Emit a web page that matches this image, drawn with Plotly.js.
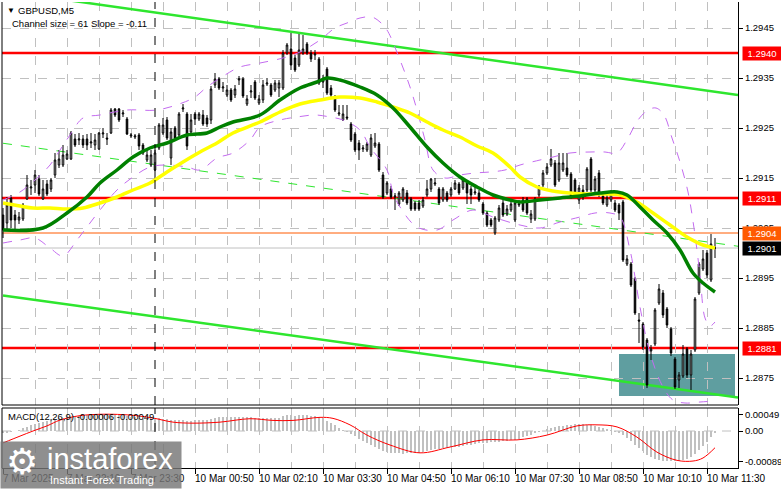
<!DOCTYPE html>
<html><head><meta charset="utf-8">
<script src="https://cdn.plot.ly/plotly-3.0.1.min.js"></script>
<style>html,body{margin:0;padding:0;background:#fff;}#chart{width:781px;height:489px;}</style>
</head><body><div id="chart"></div>
<script>
// ---------- DATA (GBPUSD M5, bar index 0 = 7 Mar 20:50) ----------
const openP = [1.29076,1.29060,1.29110,1.29076,1.29066,1.29068,1.29108,1.29130,1.29136,1.29148,
1.29108,1.29138,1.29128,1.29156,1.29176,1.29176,1.29188,1.29188,1.29228,1.29226,
1.29228,1.29228,1.29220,1.29216,1.29208,1.29238,1.29230,1.29240,1.29288,1.29288,
1.29278,1.29268,1.29234,1.29232,1.29236,1.29216,1.29186,1.29176,1.29166,1.29210,
1.29240,1.29266,1.29190,1.29250,1.29236,1.29288,1.29278,1.29242,1.29278,1.29268,
1.29276,1.29270,1.29266,1.29336,1.29348,1.29330,1.29316,1.29326,1.29316,1.29346,
1.29348,1.29298,1.29322,1.29342,1.29300,1.29306,1.29338,1.29336,1.29326,1.29330,
1.29330,1.29400,1.29408,1.29390,1.29376,1.29400,1.29418,1.29400,1.29396,1.29388,
1.29342,1.29368,1.29330,1.29310,1.29278,1.29266,1.29272,1.29258,1.29238,1.29220,
1.29208,1.29206,1.29196,1.29214,1.29218,1.29156,1.29120,1.29128,1.29112,1.29098,
1.29106,1.29120,1.29108,1.29100,1.29100,1.29094,1.29116,1.29128,1.29138,1.29128,
1.29106,1.29120,1.29116,1.29128,1.29138,1.29130,1.29140,1.29128,1.29120,1.29120,
1.29098,1.29080,1.29066,1.29040,1.29066,1.29100,1.29078,1.29086,1.29066,1.29096,
1.29106,1.29108,1.29068,1.29068,1.29116,1.29136,1.29160,1.29176,1.29180,1.29146,
1.29166,1.29170,1.29158,1.29146,1.29106,1.29126,1.29126,1.29188,1.29126,1.29160,
1.29114,1.29096,1.29106,1.29100,1.29096,1.29102,1.28978,1.28978,1.28948,1.28866,
1.28858,1.28826,1.28804,1.28818,1.28900,1.28920,1.28888,1.28848,1.28788,1.28746,
1.28754,1.28808,1.28756,1.28806,1.28920,1.28968,1.29000,1.28946,1.29010];
const highP = [1.29090,1.29112,1.29116,1.29086,1.29082,1.29100,1.29156,1.29146,1.29166,1.29156,
1.29146,1.29146,1.29150,1.29200,1.29206,1.29216,1.29206,1.29244,1.29238,1.29240,
1.29236,1.29238,1.29240,1.29238,1.29242,1.29250,1.29240,1.29290,1.29290,1.29290,
1.29286,1.29272,1.29240,1.29238,1.29240,1.29220,1.29206,1.29206,1.29206,1.29260,
1.29270,1.29272,1.29250,1.29254,1.29282,1.29298,1.29282,1.29278,1.29282,1.29282,
1.29286,1.29276,1.29334,1.29360,1.29352,1.29342,1.29336,1.29330,1.29336,1.29354,
1.29352,1.29316,1.29336,1.29346,1.29316,1.29346,1.29350,1.29340,1.29346,1.29346,
1.29406,1.29420,1.29440,1.29396,1.29438,1.29436,1.29422,1.29406,1.29406,1.29392,
1.29356,1.29372,1.29336,1.29316,1.29296,1.29296,1.29296,1.29262,1.29242,1.29226,
1.29216,1.29222,1.29238,1.29240,1.29222,1.29162,1.29144,1.29134,1.29120,1.29124,
1.29132,1.29126,1.29112,1.29104,1.29106,1.29112,1.29146,1.29150,1.29150,1.29132,
1.29132,1.29124,1.29132,1.29146,1.29142,1.29150,1.29144,1.29134,1.29132,1.29126,
1.29102,1.29084,1.29070,1.29074,1.29096,1.29106,1.29096,1.29106,1.29106,1.29106,
1.29112,1.29112,1.29086,1.29112,1.29136,1.29166,1.29180,1.29208,1.29186,1.29200,
1.29200,1.29200,1.29162,1.29150,1.29136,1.29136,1.29172,1.29192,1.29154,1.29166,
1.29120,1.29116,1.29126,1.29106,1.29100,1.29106,1.28996,1.28982,1.28952,1.28880,
1.28862,1.28830,1.28816,1.28890,1.28938,1.28926,1.28892,1.28852,1.28792,1.28762,
1.28816,1.28812,1.28806,1.28912,1.28982,1.29006,1.29006,1.29038,1.29030];
const lowP = [1.29030,1.29046,1.29050,1.29046,1.29058,1.29064,1.29106,1.29116,1.29120,1.29114,
1.29106,1.29114,1.29122,1.29150,1.29170,1.29172,1.29186,1.29186,1.29212,1.29216,
1.29210,1.29206,1.29210,1.29206,1.29206,1.29230,1.29216,1.29238,1.29272,1.29262,
1.29272,1.29236,1.29230,1.29228,1.29206,1.29196,1.29182,1.29172,1.29148,1.29206,
1.29236,1.29226,1.29176,1.29226,1.29232,1.29282,1.29206,1.29236,1.29256,1.29264,
1.29254,1.29252,1.29258,1.29330,1.29326,1.29322,1.29312,1.29302,1.29310,1.29336,
1.29310,1.29294,1.29310,1.29306,1.29296,1.29300,1.29334,1.29312,1.29322,1.29312,
1.29326,1.29396,1.29366,1.29362,1.29372,1.29396,1.29396,1.29382,1.29386,1.29336,
1.29330,1.29316,1.29312,1.29282,1.29274,1.29264,1.29266,1.29222,1.29202,1.29186,
1.29202,1.29202,1.29192,1.29210,1.29162,1.29108,1.29116,1.29108,1.29086,1.29094,
1.29102,1.29096,1.29084,1.29084,1.29084,1.29090,1.29112,1.29122,1.29134,1.29096,
1.29102,1.29102,1.29112,1.29126,1.29116,1.29126,1.29098,1.29098,1.29116,1.29102,
1.29076,1.29052,1.29052,1.29036,1.29062,1.29072,1.29074,1.29082,1.29062,1.29092,
1.29082,1.29076,1.29060,1.29064,1.29112,1.29132,1.29156,1.29172,1.29132,1.29142,
1.29162,1.29152,1.29108,1.29116,1.29098,1.29106,1.29122,1.29122,1.29122,1.29112,
1.29096,1.29092,1.29102,1.29082,1.29066,1.28982,1.28974,1.28932,1.28876,1.28820,
1.28806,1.28730,1.28786,1.28814,1.28896,1.28870,1.28850,1.28794,1.28728,1.28730,
1.28750,1.28750,1.28726,1.28802,1.28916,1.28964,1.28950,1.28942,1.28990];
const closeP = [1.29046,1.29096,1.29066,1.29066,1.29072,1.29096,1.29136,1.29132,1.29156,1.29118,
1.29128,1.29118,1.29146,1.29186,1.29188,1.29196,1.29198,1.29240,1.29216,1.29228,
1.29216,1.29216,1.29222,1.29226,1.29240,1.29240,1.29228,1.29286,1.29276,1.29266,
1.29280,1.29238,1.29236,1.29234,1.29214,1.29200,1.29196,1.29196,1.29200,1.29256,
1.29256,1.29230,1.29242,1.29230,1.29278,1.29290,1.29214,1.29266,1.29268,1.29278,
1.29258,1.29258,1.29328,1.29348,1.29330,1.29332,1.29326,1.29306,1.29328,1.29348,
1.29314,1.29308,1.29324,1.29310,1.29308,1.29336,1.29340,1.29316,1.29340,1.29340,
1.29400,1.29416,1.29376,1.29366,1.29406,1.29408,1.29400,1.29388,1.29398,1.29340,
1.29346,1.29320,1.29316,1.29286,1.29280,1.29278,1.29270,1.29226,1.29206,1.29206,
1.29210,1.29218,1.29230,1.29220,1.29166,1.29112,1.29140,1.29112,1.29114,1.29120,
1.29128,1.29100,1.29088,1.29088,1.29088,1.29106,1.29128,1.29148,1.29140,1.29100,
1.29128,1.29106,1.29128,1.29140,1.29120,1.29146,1.29120,1.29116,1.29122,1.29106,
1.29080,1.29056,1.29056,1.29070,1.29090,1.29076,1.29088,1.29098,1.29100,1.29098,
1.29086,1.29080,1.29078,1.29108,1.29130,1.29160,1.29172,1.29188,1.29136,1.29180,
1.29180,1.29156,1.29112,1.29120,1.29130,1.29112,1.29168,1.29126,1.29148,1.29116,
1.29100,1.29110,1.29120,1.29086,1.29080,1.28986,1.28988,1.28936,1.28880,1.28864,
1.28812,1.28736,1.28808,1.28886,1.28928,1.28876,1.28856,1.28800,1.28732,1.28756,
1.28798,1.28756,1.28798,1.28908,1.28978,1.28988,1.28956,1.29018,1.29010];

// Moving averages (read at sample bars)
const maGreenBar = [0,10,16,21,24.25,28.5,32.5,36.75,41,46,51,54.25,57.5,64.25,69.25,74.25,78.5,81,84.25,89.25,93.5,97.5,101.75,106,110,114.25,118.5,122.5,126.75,129.25,134.25,139.25,144.25,149.25,153.5,156,159.25,162.5,166,169.25,172.5,175,178];
const maGreenVal = [1.29046,1.29050,1.29080,1.29112,1.29140,1.29166,1.29192,1.29210,1.29220,1.29236,1.29240,1.29252,1.29262,1.29276,1.29306,1.29330,1.29342,1.29350,1.29346,1.29332,1.29316,1.29290,1.29252,1.29212,1.29180,1.29152,1.29132,1.29116,1.29106,1.29102,1.29106,1.29110,1.29114,1.29120,1.29122,1.29116,1.29092,1.29066,1.29040,1.29006,1.28960,1.28940,1.28922];
const maYellowBar = [0,4.25,7.5,11.75,16,20,24.25,28.5,32.5,36.75,41,45,49.25,53.5,57.5,64.25,69.25,74.25,79.25,84.25,89.25,93.5,97.5,101.75,106,110,114.25,118.5,122.5,126.75,129.25,133.5,137.5,141.75,146,150,154.25,158.5,162.5,166.75,171,175,178];
const maYellowVal = [1.29100,1.29094,1.29090,1.29090,1.29088,1.29090,1.29100,1.29112,1.29126,1.29140,1.29162,1.29182,1.29202,1.29220,1.29240,1.29262,1.29282,1.29298,1.29306,1.29312,1.29310,1.29302,1.29292,1.29280,1.29262,1.29246,1.29232,1.29214,1.29200,1.29172,1.29152,1.29132,1.29124,1.29120,1.29118,1.29118,1.29116,1.29102,1.29080,1.29056,1.29032,1.29016,1.29010];
// Bands
const bandUpBar = [0,4.25,8,11.75,14.25,16.75,20,24.25,31,38.5,44.75,48,51,55.5,59.25,64.25,70,74.25,79.25,83,86,89.25,92.25,94.25,96,99.25,101.75,103.5,105.5,107.5,110.5,114.25,118,121.75,125.5,129.25,134.25,137.5,141.75,146.75,150.5,153.5,156.25,158.75,161.25,163.25,165.25,167.25,169.25,171.25,172.75,174.25,175.5,176.75,178];
const bandUpVal = [1.29106,1.29122,1.29146,1.29176,1.29206,1.29236,1.29270,1.29276,1.29286,1.29286,1.29300,1.29312,1.29332,1.29356,1.29372,1.29380,1.29390,1.29402,1.29426,1.29450,1.29460,1.29470,1.29472,1.29462,1.29446,1.29386,1.29332,1.29286,1.29226,1.29166,1.29150,1.29156,1.29160,1.29162,1.29166,1.29176,1.29186,1.29192,1.29200,1.29202,1.29202,1.29200,1.29230,1.29266,1.29286,1.29290,1.29276,1.29230,1.29182,1.29122,1.29050,1.28956,1.28870,1.28854,1.28862];
const bandLoBar = [0,4.25,8,11.75,15,18.5,21,24.25,28.5,32.5,36.75,40.5,46,49.25,53.5,57.5,61.75,64.25,69.25,73.5,78,81.75,85,89.25,91.75,96,97.5,99.25,103.5,108.5,112.5,117.5,122.5,129.25,134.25,139.25,144.25,148,151.75,154.25,156.75,159.25,161.75,165,167.5,170.5,174.25,178];
const bandLoVal = [1.29020,1.29026,1.29030,1.29010,1.28994,1.29026,1.29052,1.29086,1.29126,1.29152,1.29172,1.29176,1.29172,1.29166,1.29190,1.29200,1.29226,1.29252,1.29266,1.29272,1.29276,1.29272,1.29266,1.29246,1.29212,1.29166,1.29120,1.29092,1.29052,1.29046,1.29066,1.29086,1.29072,1.29056,1.29050,1.29062,1.29072,1.29080,1.29080,1.29072,1.29006,1.28892,1.28800,1.28732,1.28706,1.28700,1.28702,1.28704];

// MACD(12,26,9)
const macdHist = [-0.00006,-0.00006,-0.00003,0.00000,0.00003,
0.00009,0.00012,0.00018,0.00021,0.00023,0.00026,0.00029,0.00032,
0.00035,0.00038,0.00038,0.00041,0.00041,0.00044,0.00044,0.00044,0.00047,0.00047,0.00047,0.00047,0.00047,
0.00048,0.00049,0.00049,0.00048,0.00046,0.00044,0.00042,0.00040,0.00038,0.00036,0.00035,0.00035,
0.00036,0.00037,0.00036,0.00034,0.00032,0.00031,0.00031,0.00032,0.00030,0.00030,0.00031,
0.00032,0.00031,0.00031,0.00035,0.00039,0.00040,0.00041,0.00041,0.00040,0.00040,0.00042,0.00041,
0.00040,0.00040,0.00039,0.00039,0.00039,0.00039,0.00038,0.00038,0.00039,0.00043,0.00046,0.00046,
0.00045,0.00046,0.00046,0.00046,0.00045,0.00043,0.00040,0.00037,
0.00030,0.00024,0.00018,0.00010,0.00004,-0.00002,-0.00008,-0.00015,
-0.00022,-0.00028,-0.00034,-0.00040,-0.00046,-0.00052,-0.00058,-0.00062,
-0.00064,-0.00065,-0.00065,-0.00066,-0.00065,-0.00065,-0.00064,-0.00063,-0.00061,-0.00058,
-0.00056,-0.00054,-0.00052,-0.00050,-0.00049,-0.00048,-0.00047,-0.00046,
-0.00044,-0.00042,-0.00040,-0.00038,-0.00036,-0.00035,-0.00034,-0.00033,
-0.00033,-0.00031,-0.00030,-0.00028,-0.00027,-0.00025,-0.00022,-0.00019,
-0.00015,-0.00011,-0.00007,-0.00003,0.00001,0.00005,
0.00009,0.00012,0.00014,0.00016,0.00018,0.00019,0.00020,0.00021,
0.00020,0.00019,0.00018,0.00016,0.00013,0.00010,0.00006,
0.00002,-0.00002,-0.00005,-0.00012,-0.00020,
-0.00030,-0.00040,-0.00050,-0.00060,-0.00070,-0.00077,
-0.00082,-0.00085,-0.00087,-0.00088,-0.00089,-0.00089,-0.00088,-0.00086,
-0.00082,-0.00075,-0.00066,-0.00056,-0.00045,-0.00032,-0.00019,-0.00006];
const signalBar = [0,4.25,7.5,11,14.25,19.25,24.25,27.5,32.5,37.5,42.5,47.5,54.25,61.75,67.5,72.5,79.25,82.5,86.75,91,96.75,104.25,111.75,120,128.5,136,143.5,148.5,153.5,158.5,163.5,168.5,172.5,175,178];
const signalVal = [-0.00035,-0.00015,0,0.00015,0.00032,0.00045,0.00049,0.00049,0.00046,0.00038,0.00026,0.00023,0.00026,0.00036,0.00031,0.00031,0.00040,0.00037,0.00018,-0.00012,-0.00041,-0.00064,-0.00047,-0.00026,-0.00026,-0.00012,0.00015,0.00018,0.00012,-0.00018,-0.00062,-0.00086,-0.00088,-0.00079,-0.00049];

// Channel (regression) lines: [startBar, endBar], [startPrice, endPrice]
const channelBars = [0, 183.75];
const channelUpper = [1.29524, 1.29316];
const channelMid = [1.292195, 1.290135];
const channelLower = [1.28915, 1.28711];
// Support zone rectangle
const zoneBars = [154, 183];
const zonePrices = [1.28714, 1.28798];
// Levels
const redLevels = [1.2940, 1.2911, 1.2881];
const redLevelText = ['1.2940', '1.2911', '1.2881'];
const askLevel = 1.2904, askText = '1.2904';
const bidLevel = 1.2901, bidText = '1.2901';
const daySeparatorBar = 38;

// Axis ticks
const timeTickBars = [0,16,32,48,64,80,96,112,128,144,160,176];
const timeTickText = ['7 Mar 2025','7 Mar 22:10','7 Mar 23:30','10 Mar 00:50','10 Mar 02:10','10 Mar 03:30','10 Mar 04:50','10 Mar 06:10','10 Mar 07:30','10 Mar 08:50','10 Mar 10:10','10 Mar 11:30'];
const priceTicks = [1.2875,1.2885,1.2895,1.2905,1.2915,1.2925,1.2935,1.2945];
const priceTickText = ['1.2875','1.2885','1.2895','1.2905','1.2915','1.2925','1.2935','1.2945'];
const macdTicks = [0.00049, 0, -0.00089];
const macdTickText = ['0.00049','0.00','-0.00089'];

// ---------- CHART ----------
const FONT = 'Liberation Sans, Arial, sans-serif';
const bars = openP.map((_, i) => i);
const ML = 2, MR = 43, MT = 2, MB = 21, PW = 781 - ML - MR, PH = 489 - MT - MB;
const pX = p => (p - ML) / PW;          // pixel -> paper x (layout placement only)
const pY = p => (489 - MB - p) / PH;    // pixel -> paper y
const mainBottom = pY(405), macdTop = pY(408);

const traces = [
  {type:'candlestick', x:bars, open:openP, high:highP, low:lowP, close:closeP,
   xaxis:'x', yaxis:'y', whiskerwidth:0, hoverinfo:'skip',
   increasing:{line:{color:'#000',width:1}, fillcolor:'#ffffff'},
   decreasing:{line:{color:'#000',width:1}, fillcolor:'#000000'}},
  {type:'scatter', mode:'lines', x:bandUpBar, y:bandUpVal, xaxis:'x', yaxis:'y',
   line:{color:'#C46CF0', width:1, dash:'dash', shape:'spline'}, hoverinfo:'skip'},
  {type:'scatter', mode:'lines', x:bandLoBar, y:bandLoVal, xaxis:'x', yaxis:'y',
   line:{color:'#C46CF0', width:1, dash:'dash', shape:'spline'}, hoverinfo:'skip'},
  {type:'scatter', mode:'lines', x:maYellowBar, y:maYellowVal, xaxis:'x', yaxis:'y',
   line:{color:'#FFFF00', width:3.5, shape:'spline'}, hoverinfo:'skip'},
  {type:'scatter', mode:'lines', x:maGreenBar, y:maGreenVal, xaxis:'x', yaxis:'y',
   line:{color:'#008000', width:3.5, shape:'spline'}, hoverinfo:'skip'},
  {type:'bar', x:bars, y:macdHist, xaxis:'x', yaxis:'y2', width:0.5,
   marker:{color:'#C0C0C0', line:{width:0}}, hoverinfo:'skip'},
  {type:'scatter', mode:'lines', x:signalBar, y:signalVal, xaxis:'x', yaxis:'y2',
   line:{color:'#FF0000', width:1, shape:'spline'}, hoverinfo:'skip'}
];

const shapes = [];
// support zone
shapes.push({type:'rect', xref:'x', yref:'y', x0:zoneBars[0], x1:zoneBars[1], y0:zonePrices[0], y1:zonePrices[1],
  fillcolor:'#5F9EA0', line:{width:0}, layer:'below'});
// horizontal levels
redLevels.forEach(v => shapes.push({type:'line', xref:'paper', x0:0, x1:1, yref:'y', y0:v, y1:v,
  line:{color:'#FF0000', width:2.5}, layer:'between'}));
shapes.push({type:'line', xref:'paper', x0:0, x1:1, yref:'y', y0:askLevel, y1:askLevel, line:{color:'#FF5A00', width:1}, layer:'between'});
shapes.push({type:'line', xref:'paper', x0:0, x1:1, yref:'y', y0:bidLevel, y1:bidLevel, line:{color:'#C0C0C0', width:1}, layer:'between'});
// channel
shapes.push({type:'line', xref:'x', yref:'y', x0:channelBars[0], x1:channelBars[1], y0:channelUpper[0], y1:channelUpper[1], line:{color:'#2EE62E', width:2.5}, layer:'between'});
shapes.push({type:'line', xref:'x', yref:'y', x0:channelBars[0], x1:channelBars[1], y0:channelLower[0], y1:channelLower[1], line:{color:'#2EE62E', width:2.5}, layer:'between'});
shapes.push({type:'line', xref:'x', yref:'y', x0:channelBars[0], x1:channelBars[1], y0:channelMid[0], y1:channelMid[1], line:{color:'#2EE62E', width:1, dash:'dash'}, layer:'between'});
// day separator
shapes.push({type:'line', xref:'x', x0:daySeparatorBar, x1:daySeparatorBar, yref:'y domain', y0:0, y1:1, line:{color:'#000', width:1, dash:'dash'}});
shapes.push({type:'line', xref:'x', x0:daySeparatorBar, x1:daySeparatorBar, yref:'y2 domain', y0:0, y1:1, line:{color:'#000', width:1, dash:'dash'}});
// MACD zero level
shapes.push({type:'line', xref:'paper', x0:0, x1:1, yref:'y2', y0:0, y1:0, line:{color:'#C0C0C0', width:1, dash:'dash'}, layer:'below'});
// panel borders
shapes.push({type:'line', xref:'paper', yref:'paper', x0:0, x1:0, y0:mainBottom, y1:1, line:{color:'#000', width:1}});
shapes.push({type:'line', xref:'paper', yref:'paper', x0:0, x1:1, y0:mainBottom, y1:mainBottom, line:{color:'#000', width:1}});
shapes.push({type:'line', xref:'paper', yref:'paper', x0:0, x1:1, y0:macdTop, y1:macdTop, line:{color:'#000', width:1}});
shapes.push({type:'line', xref:'paper', yref:'paper', x0:0, x1:0, y0:0, y1:macdTop, line:{color:'#000', width:1}});

const ann = [];
const txt = (text, x, y, size, extra) => Object.assign({xref:'paper', yref:'paper', x:pX(x), y:pY(y), xanchor:'left', yanchor:'middle',
  text, showarrow:false, font:{family:FONT, size, color:'#000'}}, extra || {});
ann.push(txt('▼', 5, 11, 8));
ann.push(txt('GBPUSD,M5', 16, 11, 9.5));
ann.push(txt('Channel size = 61 Slope = -0.11', 10, 24, 9.5));
ann.push(txt('MACD(12,26,9) -0.00006 -0.00049', 6, 416, 9.5));
timeTickBars.forEach((b, k) => ann.push({xref:'x', yref:'paper', x:b, y:pY(478), xanchor:'left', yanchor:'middle', xshift:-2,
  text:timeTickText[k], showarrow:false, font:{family:FONT, size:10, color:'#000'}}));
const box = (v, t, bg) => ({xref:'paper', x:1, xanchor:'left', xshift:4, yref:'y', y:v, yanchor:'middle', text:t, showarrow:false,
  bgcolor:bg, width:38, height:13, borderpad:0, align:'center', font:{family:FONT, size:9.5, color:'#fff'}});
redLevels.forEach((v, k) => ann.push(box(v, redLevelText[k], '#FF0000')));
ann.push(box(askLevel, askText, '#FF5A00'));
ann.push(box(bidLevel, bidText, '#000000'));
// watermark
ann.push({xref:'paper', yref:'paper', x:pX(0), y:pY(489), xanchor:'left', yanchor:'bottom', text:' ', showarrow:false,
  bgcolor:'rgba(118,118,118,0.82)', width:180, height:46, borderpad:0});
ann.push(txt('⚙', 4, 461, 36, {font:{family:'DejaVu Sans', size:36, color:'#fff'}}));
ann.push(txt('instaforex', 45, 459, 29, {font:{family:FONT, size:29, color:'#fff'}}));
ann.push(txt('Instant Forex Trading', 48, 480, 11, {font:{family:FONT, size:11, color:'#fff'}}));

const layout = {
  width:781, height:489, margin:{l:ML, r:MR, t:MT, b:MB},
  paper_bgcolor:'#fff', plot_bgcolor:'#fff', showlegend:false, hovermode:false, dragmode:false,
  boxgap:0.45, bargap:0,
  xaxis:{domain:[0,1], range:[-0.25,183.75], anchor:'y2', rangeslider:{visible:false},
    tickmode:'linear', tick0:0, dtick:16, ticks:'outside', ticklen:5, tickcolor:'#000', showticklabels:false,
    showgrid:true, gridcolor:'#C0C0C0', griddash:'dash', gridwidth:1,
    minor:{dtick:8, showgrid:true, gridcolor:'#C0C0C0', griddash:'dash', gridwidth:1, ticks:''},
    showline:true, linecolor:'#000', linewidth:1, zeroline:false, fixedrange:true},
  yaxis:{domain:[mainBottom,1], range:[1.28696,1.29502], side:'right', anchor:'x',
    tickmode:'array', tickvals:priceTicks, ticktext:priceTickText, ticks:'outside', ticklen:4, tickcolor:'#000',
    tickfont:{family:FONT, size:9.5, color:'#000'},
    showgrid:true, gridcolor:'#C0C0C0', griddash:'dash', gridwidth:1,
    showline:true, linecolor:'#000', linewidth:1, zeroline:false, fixedrange:true},
  yaxis2:{domain:[0,macdTop], range:[-0.001084,0.000674], side:'right', anchor:'x',
    tickmode:'array', tickvals:macdTicks, ticktext:macdTickText, ticks:'outside', ticklen:4, tickcolor:'#000',
    tickfont:{family:FONT, size:9.5, color:'#000'},
    showgrid:false, showline:true, linecolor:'#000', linewidth:1, zeroline:false, fixedrange:true},
  shapes, annotations:ann
};
Plotly.newPlot('chart', traces, layout, {staticPlot:true, displayModeBar:false});
</script></body></html>
